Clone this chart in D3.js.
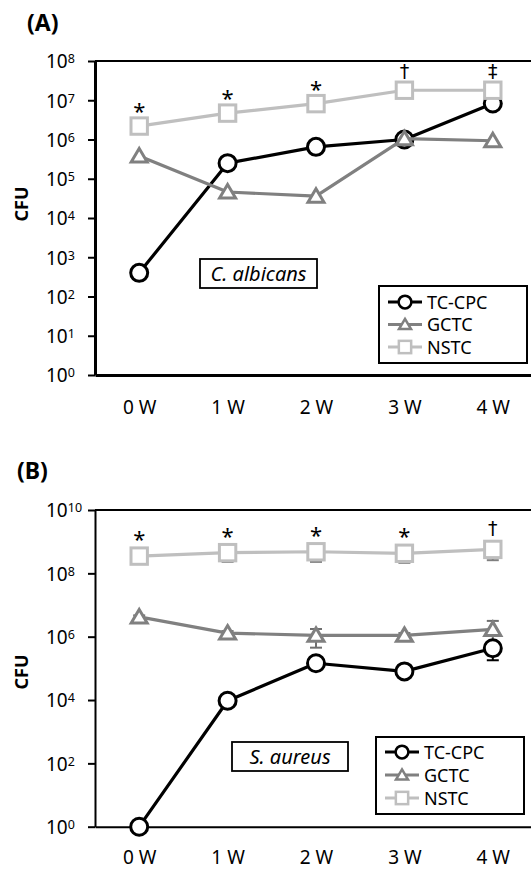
<!DOCTYPE html>
<html><head><meta charset="utf-8">
<script src="https://cdn.jsdelivr.net/npm/d3@7"></script>
<style>body{margin:0;background:#fff}svg{display:block}</style>
</head><body>
<svg id="c" width="531" height="874"></svg>
<script>
// ---- data ----
const weeks = ["0 W", "1 W", "2 W", "3 W", "4 W"];
const seriesNames = ["TC-CPC", "GCTC", "NSTC"];

// Panel A: C. albicans
const albicansTCCPC = [400, 2.5e5, 6.5e5, 1.0e6, 8.3e6];
const albicansGCTC  = [3.8e5, 4.6e4, 3.6e4, 1.05e6, 9.3e5];
const albicansNSTC  = [2.2e6, 4.7e6, 8.2e6, 1.8e7, 1.8e7];
const albicansMarks = ["*", "*", "*", "†", "‡"];
const albicansTickExps = [0, 1, 2, 3, 4, 5, 6, 7, 8];

// Panel B: S. aureus
const aureusTCCPC = [1, 9.5e3, 1.45e5, 8.0e4, 4.3e5];
const aureusGCTC  = [4.2e6, 1.3e6, 1.1e6, 1.1e6, 1.7e6];
const aureusNSTC  = [3.5e8, 4.5e8, 4.8e8, 4.3e8, 5.7e8];
const aureusTCCPCsd = [0, 2e3, 3e4, 1.5e4, 2.5e5];
const aureusGCTCsd  = [5e5, 2e5, 6.5e5, 2e5, 1.45e6];
const aureusNSTCsd  = [1e8, 2.2e8, 2.5e8, 2.15e8, 3.1e8];
const aureusMarks = ["*", "*", "*", "*", "†"];
const aureusTickExps = [0, 2, 4, 6, 8, 10];

// ---- styles ----
const colors = {"TC-CPC": "#000000", "GCTC": "#808080", "NSTC": "#bfbfbf"};
const errColors = {"TC-CPC": "#000000", "GCTC": "#6f6f6f", "NSTC": "#7f7f7f"};
const FONT = "'Noto Sans', 'Open Sans', sans-serif";

const svg = d3.select("#c");

function drawMarker(g, name, x, y, s, sw) {
  const c = colors[name];
  if (name === "TC-CPC") {
    g.append("circle").attr("cx", x).attr("cy", y).attr("r", 8.5*s)
      .attr("fill", "#fff").attr("stroke", c).attr("stroke-width", sw);
  } else if (name === "GCTC") {
    g.append("path").attr("d", `M0,${-7.5*s}L${8*s},${6*s}L${-8*s},${6*s}Z`)
      .attr("transform", `translate(${x},${y})`)
      .attr("fill", "#fff").attr("stroke", c).attr("stroke-width", sw)
      .attr("stroke-linejoin", "miter");
  } else {
    const h = 8.2*s;
    g.append("rect").attr("x", x-h).attr("y", y-h).attr("width", 2*h).attr("height", 2*h)
      .attr("fill", "#fff").attr("stroke", c).attr("stroke-width", sw);
  }
}

function drawPanel(cfg) {
  const g = svg.append("g");
  const left = 95, right = 537;
  const x = d3.scalePoint().domain(weeks).range([left, right]).padding(0.5);
  const y = d3.scaleLog().domain([1, Math.pow(10, cfg.maxExp)]).range([cfg.bottom, cfg.top]);

  // top border
  g.append("line").attr("x1", left).attr("x2", 531).attr("y1", cfg.top).attr("y2", cfg.top)
    .attr("stroke", "#000").attr("stroke-width", 2);

  // y axis
  const yAxis = d3.axisLeft(y).tickValues(cfg.tickExps.map(e => Math.pow(10, e)))
    .tickSize(7).tickSizeOuter(0).tickFormat("");
  const ya = g.append("g").attr("transform", `translate(${left},0)`).call(yAxis);
  ya.select(".domain").attr("stroke", "#000").attr("stroke-width", cfg.axisW);
  ya.selectAll(".tick line").attr("stroke", "#000").attr("stroke-width", 2);
  ya.selectAll(".tick").each(function(d) {
    const t = d3.select(this).append("text")
      .attr("x", -49).attr("y", 6.8).attr("text-anchor", "start")
      .attr("fill", "#000").style("font-family", FONT).style("font-size", "19px");
    t.append("tspan").text("10");
    t.append("tspan").attr("dy", -5).style("font-size", "12.5px").text(Math.round(Math.log10(d)));
  });

  // x axis
  const xAxis = d3.axisBottom(x).tickSize(0).tickPadding(cfg.xPad);
  const xa = g.append("g").attr("transform", `translate(0,${cfg.bottom})`).call(xAxis);
  xa.select(".domain").attr("stroke", "#000").attr("stroke-width", cfg.axisW);
  xa.selectAll(".tick text").attr("fill", "#000").style("font-family", FONT).style("font-size", "19px");

  // CFU label
  g.append("text").attr("transform", `translate(28,${cfg.cfuY}) rotate(-90)`)
    .attr("text-anchor", "middle").style("font-family", FONT).style("font-size", "18px")
    .style("font-weight", "bold").attr("fill", "#000").text("CFU");

  // panel title
  g.append("text").attr("x", cfg.titleX).attr("y", cfg.titleY)
    .style("font-family", FONT).style("font-size", "23px").style("font-weight", "bold")
    .attr("fill", "#000").text(cfg.title);

  // error bars first
  cfg.series.forEach(s => {
    if (!s.sd) return;
    s.values.forEach((v, i) => {
      const sd = s.sd[i];
      if (!sd) return;
      const xi = x(weeks[i]);
      const lo = Math.max(v - sd, 1), hi = v + sd;
      const eg = g.append("g").attr("stroke", errColors[s.name]).attr("stroke-width", 2);
      eg.append("line").attr("x1", xi).attr("x2", xi).attr("y1", y(lo)).attr("y2", y(hi));
      [lo, hi].forEach(e => eg.append("line").attr("x1", xi-6).attr("x2", xi+6).attr("y1", y(e)).attr("y2", y(e)));
    });
  });

  // series lines + markers
  const line = d3.line().x((d, i) => x(weeks[i])).y(d => y(d));
  cfg.series.forEach(s => {
    g.append("path").datum(s.values).attr("d", line).attr("fill", "none")
      .attr("stroke", colors[s.name]).attr("stroke-width", 3.2).attr("stroke-linejoin", "round");
    s.values.forEach((v, i) => drawMarker(g, s.name, x(weeks[i]), y(v), 1, 3));
  });

  // significance marks
  const nst = cfg.series.find(s => s.name === "NSTC").values;
  cfg.marks.forEach((m, i) => {
    const cy = y(nst[i]) - cfg.markOff;
    const isStar = m === "*";
    g.append("text").attr("x", x(weeks[i])).attr("y", isStar ? cy + 13 : cy + 8)
      .attr("text-anchor", "middle").attr("fill", "#000")
      .style("font-family", isStar ? FONT : "'DejaVu Sans', sans-serif")
      .style("font-size", isStar ? "22px" : "19px").text(m);
  });

  // species label box
  const lb = cfg.labelBox;
  g.append("rect").attr("x", lb[0]).attr("y", lb[1]).attr("width", lb[2]).attr("height", lb[3])
    .attr("fill", "#fff").attr("stroke", "#000").attr("stroke-width", 1.8);
  g.append("text").attr("x", lb[0] + lb[2]/2).attr("y", lb[1] + lb[3]/2 + 7)
    .attr("text-anchor", "middle").style("font-family", FONT).style("font-size", "20px")
    .style("font-style", "italic").attr("fill", "#000").text(cfg.label);

  // legend
  const L = cfg.legendBox;
  g.append("rect").attr("x", L[0]).attr("y", L[1]).attr("width", L[2]).attr("height", L[3])
    .attr("fill", "#fff").attr("stroke", "#000").attr("stroke-width", 2);
  seriesNames.forEach((n, i) => {
    const ry = L[1] + cfg.legRow0 + i * cfg.legStep;
    const lx = L[0] + 9;
    g.append("line").attr("x1", lx).attr("x2", lx + 34).attr("y1", ry).attr("y2", ry)
      .attr("stroke", colors[n]).attr("stroke-width", 3);
    drawMarker(g, n, lx + 17, ry, 0.75, 2.5);
    g.append("text").attr("x", L[0] + 48).attr("y", ry + 6.5)
      .style("font-family", FONT).style("font-size", "18px").attr("fill", "#000").text(n);
  });
}

drawPanel({
  top: 61, bottom: 375, maxExp: 8, tickExps: albicansTickExps, axisW: 3,
  xPad: 26, cfuY: 204, title: "(A)", titleX: 27, titleY: 31,
  series: [
    {name: "TC-CPC", values: albicansTCCPC},
    {name: "GCTC", values: albicansGCTC},
    {name: "NSTC", values: albicansNSTC}
  ],
  marks: albicansMarks, markOff: 20,
  label: "C. albicans", labelBox: [200, 259, 117, 29],
  legendBox: [379, 286, 148, 77], legRow0: 16, legStep: 22.5
});

drawPanel({
  top: 510, bottom: 826.7, maxExp: 10, tickExps: aureusTickExps, axisW: 2,
  xPad: 24, cfuY: 672, title: "(B)", titleX: 17, titleY: 479,
  series: [
    {name: "TC-CPC", values: aureusTCCPC, sd: aureusTCCPCsd},
    {name: "GCTC", values: aureusGCTC, sd: aureusGCTCsd},
    {name: "NSTC", values: aureusNSTC, sd: aureusNSTCsd}
  ],
  marks: aureusMarks, markOff: 22,
  label: "S. aureus", labelBox: [232, 742, 116, 29],
  legendBox: [376, 737, 148, 77], legRow0: 15, legStep: 23
});
</script>
</body></html>
